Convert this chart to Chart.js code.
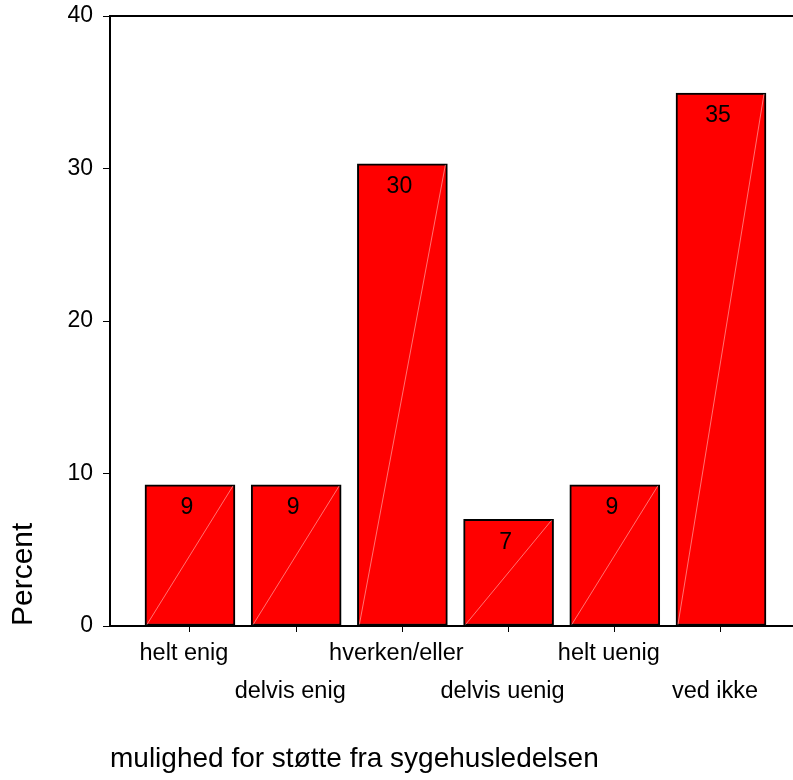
<!DOCTYPE html>
<html>
<head>
<meta charset="utf-8">
<script src="https://cdn.jsdelivr.net/npm/chart.js@4/dist/chart.umd.min.js"></script>
<style>
  body { margin: 0; background: #fff; }
  #wrap { width: 793px; height: 780px; }
</style>
</head>
<body>
<div id="wrap"><canvas id="myChart" width="793" height="780"></canvas></div>
<script>
  const categories = ['helt enig', 'delvis enig', 'hverken/eller', 'delvis uenig', 'helt uenig', 'ved ikke'];
  const percents = [9.25, 9.25, 30.3, 7.0, 9.25, 34.95];
  const yTicks = [0, 10, 20, 30, 40];
  const xTitle = 'mulighed for støtte fra sygehusledelsen';
  const yTitle = 'Percent';

  const FONT = 'Arial, "Liberation Sans", sans-serif';

  // frame line on top + value labels + faint diagonal in each bar
  const extras = {
    id: 'extras',
    afterDatasetsDraw(chart) {
      const ctx = chart.ctx;
      const area = chart.chartArea;
      const meta = chart.getDatasetMeta(0);
      ctx.save();
      meta.data.forEach((bar, i) => {
        const half = bar.width / 2;
        ctx.strokeStyle = 'rgba(255,190,190,0.6)';
        ctx.lineWidth = 1;
        ctx.beginPath();
        ctx.moveTo(bar.x - half + 2, bar.base - 1);
        ctx.lineTo(bar.x + half - 2, bar.y + 1);
        ctx.stroke();
        ctx.fillStyle = '#000';
        ctx.font = '23px ' + FONT;
        ctx.textAlign = 'center';
        ctx.textBaseline = 'middle';
        ctx.fillText(Math.round(percents[i]), bar.x - 3, bar.y + 23);
      });
      ctx.strokeStyle = '#000';
      ctx.lineWidth = 2;
      ctx.beginPath();
      ctx.moveTo(area.left - 1, area.top);
      ctx.lineTo(area.right, area.top);
      ctx.stroke();
      ctx.restore();
    }
  };

  const config = {
    type: 'bar',
    data: {
      datasets: [{
        data: percents.map((v, i) => ({ x: i, y: v })),
        backgroundColor: '#ff0000',
        borderColor: '#000',
        borderWidth: 2,
        borderSkipped: false,
        barThickness: 90
      }]
    },
    options: {
      responsive: false,
      animation: false,
      layout: { padding: { top: 16, right: 0, left: 0, bottom: 0 } },
      plugins: { legend: { display: false }, tooltip: { enabled: false } },
      scales: {
        x: {
          type: 'linear',
          min: -0.753,
          max: 5.678,
          offset: false,
          afterFit(scale) { scale.height = 154; },
          afterBuildTicks(scale) { scale.ticks = categories.map((c, i) => ({ value: i })); },
          border: { display: true, color: '#000', width: 2 },
          grid: { offset: false, drawOnChartArea: false, drawTicks: true, tickLength: 6, color: '#000', lineWidth: 1 },
          ticks: {
            autoSkip: false,
            maxRotation: 0,
            padding: 2,
            labelOffset: -6,
            color: '#000',
            font: { family: FONT, size: 23.5, lineHeight: 1.62 },
            callback: (v) => (v % 2 ? ['', categories[v]] : categories[v])
          },
          title: {
            display: true,
            text: xTitle,
            align: 'start',
            color: '#000',
            font: { family: FONT, size: 28 },
            padding: { top: 4, bottom: 4 }
          }
        },
        y: {
          min: 0,
          max: 40,
          afterFit(scale) { scale.width = 110; },
          afterBuildTicks(scale) { scale.ticks = yTicks.map(v => ({ value: v })); },
          border: { display: true, color: '#000', width: 2 },
          grid: { drawOnChartArea: false, drawTicks: true, tickLength: 7, color: '#000', lineWidth: 1 },
          ticks: {
            padding: 10,
            color: '#000',
            font: { family: FONT, size: 23, lineHeight: 0.5 }
          },
          title: {
            display: true,
            text: yTitle,
            align: 'start',
            color: '#000',
            font: { family: FONT, size: 30 },
            padding: { top: 6, bottom: 4 }
          }
        }
      }
    },
    plugins: [extras]
  };

  const myChart = new Chart(
    document.getElementById('myChart'),
    config
  );
</script>
</body>
</html>
